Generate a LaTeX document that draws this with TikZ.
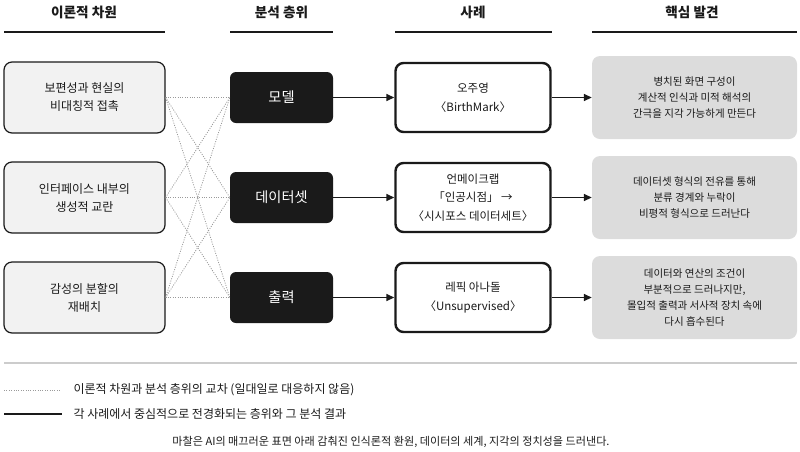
\documentclass[tikz,border=0pt]{standalone}
\usepackage{fontspec}
\setmainfont{Noto Sans CJK KR}
\usetikzlibrary{arrows.meta}

\definecolor{inkdark}{HTML}{1A1A1A}
\definecolor{theorygray}{HTML}{F2F2F2}
\definecolor{findgray}{HTML}{DCDCDC}
\definecolor{crossgray}{HTML}{9A9A9A}
\definecolor{rulegray}{HTML}{CCCCCC}

\tikzset{
  colhead/.style={font=\bfseries\fontsize{13.6}{16}\selectfont, text=inkdark},
  colrule/.style={line width=1.3pt, inkdark},
  theorybox/.style={draw=inkdark, line width=1.2pt, fill=theorygray, rounded corners=8pt,
    minimum width=161pt, minimum height=71pt, align=center,
    font=\fontsize{12}{18}\selectfont, text=inkdark},
  layerbox/.style={fill=inkdark, rounded corners=6pt, minimum width=103pt, minimum height=51pt,
    font=\fontsize{14.2}{17}\selectfont, text=white},
  casebox/.style={draw=inkdark, line width=2.4pt, fill=white, rounded corners=8pt,
    minimum width=155pt, minimum height=69pt, align=center,
    font=\fontsize{11.5}{18.5}\selectfont, text=inkdark},
  findbox/.style={fill=findgray, rounded corners=8pt, minimum width=205pt, minimum height=83pt,
    align=center, font=\fontsize{10.5}{16}\selectfont, text=inkdark},
  cross/.style={crossgray, line width=0.8pt, dash pattern=on 1pt off 1.4pt},
  lead/.style={inkdark, line width=1.5pt, -{Triangle[length=8pt,width=7pt]}},
  legendtext/.style={anchor=west, font=\fontsize{12}{14}\selectfont, text=inkdark},
}

\begin{document}
\begin{tikzpicture}[x=1pt,y=-1pt]
  \useasboundingbox (0,0) rectangle (800,451);
  % column heads
  \node[colhead] (hd1) at (84,12) {이론적 차원};
  \node[colhead] (hd2) at (281.5,12) {분석 층위};
  \node[colhead] (hd3) at (473,12) {사례};
  \node[colhead] (hd4) at (692,12) {핵심 발견};
  \draw[colrule] (4,32) -- (165,32);
  \draw[colrule] (230,32) -- (333,32);
  \draw[colrule] (395,32) -- (552,32);
  \draw[colrule] (592,32) -- (797,32);

  % theoretical dimensions
  \node[theorybox] (th1) at (84.5,97.5) {보편성과 현실의\\비대칭적 접촉};
  \node[theorybox] (th2) at (84.5,197.5) {인터페이스 내부의\\생성적 교란};
  \node[theorybox] (th3) at (84.5,297.5) {감성의 분할의\\재배치};

  % analysis layers
  \node[layerbox] (ly1) at (281.5,97.5) {모델};
  \node[layerbox] (ly2) at (281.5,197.5) {데이터셋};
  \node[layerbox] (ly3) at (281.5,297.5) {출력};

  % every dimension meets every layer
  \foreach \i in {1,2,3}
    \foreach \j in {1,2,3}
      \draw[cross] (th\i.east) -- (ly\j.west);

  % cases
  \node[casebox] (cs1) at (473,97.5) {오주영\\〈BirthMark〉};
  \node[casebox] (cs2) at (473,197.5) {언메이크랩\\「인공시점」 →\\〈시시포스 데이터세트〉};
  \node[casebox] (cs3) at (473,297.5) {레픽 아나돌\\〈Unsupervised〉};

  % findings
  \node[findbox] (fd1) at (694.5,97.5) {병치된 화면 구성이\\계산적 인식과 미적 해석의\\간극을 지각 가능하게 만든다};
  \node[findbox] (fd2) at (694.5,197.5) {데이터셋 형식의 전유를 통해\\분류 경계와 누락이\\비평적 형식으로 드러난다};
  \node[findbox] (fd3) at (694.5,297.5) {데이터와 연산의 조건이\\부분적으로 드러나지만,\\몰입적 출력과 서사적 장치 속에\\다시 흡수된다};

  \foreach \k in {1,2,3} {
    \draw[lead] (ly\k.east) -- (cs\k.west);
    \draw[lead] (cs\k.east) -- (fd\k.west);
  }

  % legend
  \draw[rulegray, line width=1.5pt] (4,363) -- (797,363);
  \coordinate (lg1a) at (4,390);
  \coordinate (lg1b) at (60,390);
  \coordinate (lg2a) at (4,414);
  \coordinate (lg2b) at (62,414);
  \draw[cross] (lg1a) -- (lg1b);
  \draw[inkdark, line width=1.5pt] (lg2a) -- (lg2b);
  \node[legendtext] (lt1) at (70,390) {이론적 차원과 분석 층위의 교차 (일대일로 대응하지 않음)};
  \node[legendtext] (lt2) at (70,414) {각 사례에서 중심적으로 전경화되는 층위와 그 분석 결과};
  \node[font=\fontsize{11.1}{13}\selectfont, text=inkdark] (note) at (391,442)
    {마찰은 AI의 매끄러운 표면 아래 감춰진 인식론적 환원, 데이터의 세계, 지각의 정치성을 드러낸다.};
\end{tikzpicture}
\end{document}
